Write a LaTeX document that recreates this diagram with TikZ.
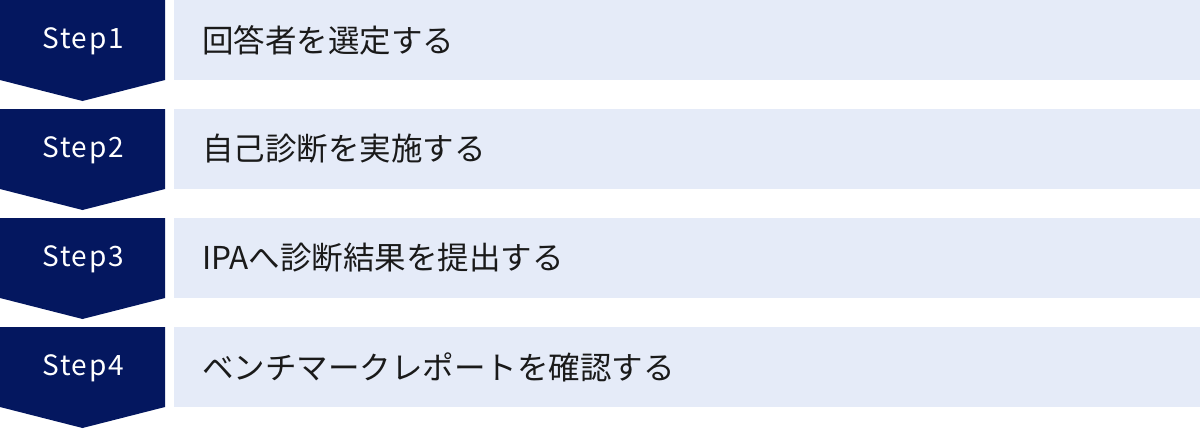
\documentclass[tikz,border=0pt]{standalone}
\usepackage{fontspec}
\newfontfamily\jpfont{Noto Sans CJK JP}
\newfontfamily\stepfont[LetterSpace=6]{Noto Sans CJK JP}
\definecolor{navy}{HTML}{04175F}
\definecolor{pale}{HTML}{E5EBF8}
\definecolor{ink}{HTML}{1A1A1A}
\begin{document}
\begin{tikzpicture}[x=1pt,y=-1pt,
  chevron/.style={fill=navy,draw=none},
  palebox/.style={fill=pale,draw=none,minimum width=1026pt,minimum height=80pt,inner sep=0pt,anchor=north west},
  steplabel/.style={text=white,font=\stepfont\fontsize{28}{32}\selectfont,inner sep=0pt},
  tasklabel/.style={text=ink,font=\jpfont\fontsize{31.5}{36}\selectfont,inner sep=0pt,anchor=west}]
\useasboundingbox (0,0) rectangle (1200,429);
\foreach \n/\t in {1/回答者を選定する,2/自己診断を実施する,3/IPAへ診断結果を提出する,4/ベンチマークレポートを確認する}{
  \pgfmathsetmacro{\y}{(\n-1)*109}
  \fill[chevron] (0,\y) -- (165,\y) -- (165,\y+80) -- (82.5,\y+101) -- (0,\y+80) -- cycle;
  \node[palebox] (b\n) at (174,\y) {};
  \node[steplabel] (s\n) at (83,\y+41) {Step\n};
  \node[tasklabel] (t\n) at (202,\y+40) {\t};
}
\end{tikzpicture}
\end{document}
